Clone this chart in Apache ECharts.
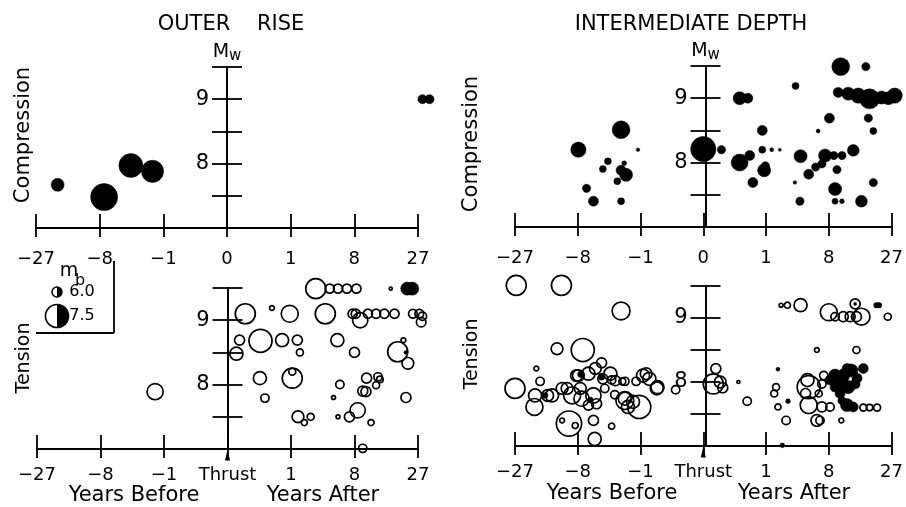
<!DOCTYPE html>
<html>
<head>
<meta charset="utf-8">
<script src="https://cdn.jsdelivr.net/npm/echarts@6/dist/echarts.min.js"></script>
<style>html,body{margin:0;padding:0;background:#fff}#c{width:906px;height:507px}</style>
</head>
<body>
<div id="c"></div>
<script>
// Time axis is drawn in cube-root-of-years units: ticks -3..3 are labelled -27,-8,-1,0,1,8,27 years.
// Each point: [time (cube-root years), Mw, mb]
const xTickLabelsTop = ['\u221227', '\u22128', '\u22121', '0', '1', '8', '27'];
const xTickLabelsBottom = ['\u221227', '\u22128', '\u22121', 'Thrust', '1', '8', '27'];
const yTickLabels = ['8', '9'];

const orCompression = [
  [-2.66, 7.67, 6.35], [-1.93, 7.48, 7.96], [-1.51, 7.97, 7.6], [-1.17, 7.88, 7.4],
  [3.07, 9.0, 5.9], [3.18, 9.0, 5.9]
];
const orTension = [
  [-1.14, 7.89, 6.7],
  [1.39, 9.49, 7.15], [1.61, 9.49, 5.9], [1.74, 9.49, 5.9], [1.88, 9.49, 5.9], [2.03, 9.49, 5.9], [2.57, 9.49, 5.2],
  [0.28, 9.10, 7.15], [0.70, 9.19, 5.4], [0.98, 9.10, 6.8], [1.54, 9.10, 7.15],
  [1.97, 9.10, 5.9], [2.02, 9.10, 5.9], [2.09, 9.0, 6.6], [2.21, 9.10, 5.9], [2.34, 9.10, 5.9], [2.47, 9.10, 5.9], [2.63, 9.10, 5.9],
  [2.92, 9.10, 5.85], [3.02, 9.10, 5.85], [3.05, 8.97, 5.95], [3.07, 9.06, 5.8],
  [0.19, 8.69, 6.0], [0.14, 8.48, 6.35], [0.52, 8.68, 7.5], [0.86, 8.69, 6.35], [1.10, 8.69, 6.0], [1.14, 8.50, 5.65],
  [1.73, 8.69, 6.35], [2.0, 8.50, 6.0], [2.68, 8.51, 7.15], [2.77, 8.69, 5.4], [2.84, 8.33, 6.2],
  [0.51, 8.10, 6.35], [1.02, 8.10, 7.15], [1.02, 8.20, 5.65], [0.59, 7.79, 5.8],
  [1.11, 7.50, 6.2], [1.21, 7.41, 5.55], [1.31, 7.50, 5.65],
  [1.77, 8.0, 5.8], [1.67, 7.80, 5.3], [1.74, 7.50, 5.3], [1.92, 7.50, 6.0], [2.05, 7.60, 6.6], [2.26, 7.41, 5.55], [2.13, 7.01, 5.8],
  [2.19, 8.10, 6.0], [2.37, 8.12, 5.8], [2.34, 7.99, 5.65], [2.40, 8.08, 5.6], [2.13, 7.90, 6.0], [2.18, 7.89, 6.0], [2.81, 7.80, 6.0]
];
const orTensionFilled = [
  [2.83, 9.49, 6.35], [2.91, 9.49, 6.35], [2.81, 8.50, 5.3]
];
const idCompression = [
  [-1.99, 8.20, 6.6], [-1.31, 8.51, 6.9], [-1.04, 8.20, 5.25], [-1.52, 8.02, 5.65], [-1.60, 7.90, 5.65],
  [-1.26, 7.99, 5.4], [-1.31, 7.88, 6.0], [-1.23, 7.81, 6.35], [-1.37, 7.71, 5.65], [-1.86, 7.60, 5.8],
  [-1.75, 7.40, 6.0], [-1.31, 7.40, 5.65],
  [0.0, 8.21, 7.75], [0.29, 8.20, 5.8],
  [2.19, 9.49, 6.9], [2.59, 9.49, 5.8], [1.47, 9.19, 5.65], [0.58, 9.0, 6.35], [0.71, 9.0, 6.0],
  [2.15, 9.09, 6.0], [2.31, 9.07, 6.35], [2.47, 9.04, 6.6], [2.65, 8.99, 7.15], [2.84, 9.01, 6.35], [2.95, 9.0, 6.35], [3.05, 9.04, 6.6],
  [2.63, 8.69, 5.8], [2.71, 8.49, 5.65], [2.01, 8.69, 6.0], [1.83, 8.49, 5.3], [0.94, 8.50, 6.0],
  [0.58, 8.0, 6.8], [0.74, 8.11, 6.0], [0.94, 8.20, 5.65], [1.09, 8.20, 5.3], [1.22, 8.20, 5.2],
  [0.97, 7.88, 6.35], [0.99, 7.95, 5.8], [0.79, 7.69, 6.0],
  [1.55, 8.10, 6.35], [1.46, 7.69, 5.25], [1.94, 8.11, 6.35], [2.08, 8.11, 5.8], [2.21, 8.11, 5.8], [2.39, 8.19, 6.2],
  [1.89, 7.98, 5.8], [1.79, 7.93, 5.8], [1.68, 7.82, 6.0], [2.13, 7.89, 5.8], [2.10, 7.59, 6.35],
  [1.54, 7.40, 5.8], [2.10, 7.40, 5.55], [2.21, 7.40, 5.4], [2.52, 7.40, 6.2], [2.71, 7.69, 5.8]
];
const idTension = [
  [-2.98, 9.51, 7.15], [-2.26, 9.51, 7.15], [-1.31, 9.11, 6.9], [-2.33, 8.52, 6.2], [-1.92, 8.50, 7.5],
  [-2.66, 8.21, 5.4], [-3.0, 7.90, 7.15], [-2.60, 8.01, 5.8], [-2.68, 7.79, 6.35], [-2.69, 7.61, 6.8],
  [-2.48, 7.79, 6.2], [-2.41, 7.79, 6.35], [-2.25, 7.90, 6.2], [-2.17, 7.90, 6.2], [-2.09, 7.79, 6.8],
  [-2.14, 7.35, 7.75], [-2.25, 7.40, 5.4], [-2.04, 7.32, 5.55], [-1.94, 7.74, 6.6], [-1.96, 7.90, 6.2],
  [-1.99, 8.10, 6.2], [-1.75, 7.79, 6.6], [-1.70, 7.66, 6.0], [-1.83, 7.64, 6.0], [-1.75, 7.40, 6.0],
  [-1.73, 7.11, 6.35], [-1.46, 7.31, 5.55], [-1.57, 7.90, 5.8], [-1.46, 8.03, 5.8], [-1.41, 7.80, 5.8],
  [-1.29, 8.01, 5.65], [-1.25, 7.74, 6.35], [-1.25, 8.01, 5.8], [-1.07, 8.01, 5.8], [-0.96, 8.10, 6.35],
  [-0.91, 8.13, 6.2], [-0.86, 8.05, 6.35], [-0.73, 7.92, 6.35], [-1.20, 7.61, 6.35], [-1.12, 7.69, 6.35],
  [-1.02, 7.61, 7.5], [-1.25, 7.71, 6.9], [-0.74, 7.90, 6.35],
  [-2.02, 8.10, 6.2], [-1.83, 8.13, 6.35], [-1.72, 8.21, 6.2], [-1.60, 8.05, 6.0], [-1.48, 8.13, 6.35], [-1.40, 8.02, 6.0], [-1.62, 8.30, 6.0],
  [-0.44, 7.88, 5.8],
  [0.20, 8.21, 6.0], [0.16, 7.97, 7.15], [0.27, 8.0, 6.2], [0.31, 7.91, 6.0], [0.56, 8.0, 5.1], [0.70, 7.70, 5.8],
  [1.24, 9.20, 5.3], [1.34, 9.20, 5.55], [1.55, 9.20, 6.35],
  [2.0, 9.09, 6.8], [2.42, 9.22, 6.0], [2.52, 9.02, 6.8], [2.10, 9.02, 5.8], [2.23, 9.02, 6.0], [2.34, 9.02, 6.0], [2.44, 9.02, 6.0],
  [2.94, 9.02, 5.65], [1.81, 8.50, 5.4], [2.44, 8.50, 5.65],
  [1.16, 7.92, 5.65], [1.13, 7.82, 5.65], [1.19, 7.61, 5.55], [1.32, 7.40, 5.8],
  [1.68, 7.92, 7.5], [1.66, 8.03, 6.35], [1.63, 7.82, 6.0], [1.68, 7.64, 6.8],
  [1.92, 8.10, 5.8], [1.89, 7.97, 5.8], [1.84, 7.82, 5.65], [1.81, 7.40, 6.2], [1.89, 7.61, 6.0], [2.02, 7.61, 5.8],
  [2.55, 7.60, 5.65], [2.65, 7.60, 5.6], [2.77, 7.60, 5.65], [2.20, 7.40, 5.4], [1.86, 7.40, 5.8]
];
const idTensionFilled = [
  [2.42, 9.22, 5.1], [2.76, 9.20, 5.5], [2.80, 9.20, 5.5],
  [1.19, 8.20, 5.3], [1.35, 7.70, 5.4], [1.26, 7.01, 5.4],
  [-1.95, 8.12, 5.6], [-1.62, 8.08, 5.6], [-2.52, 7.79, 5.5], [-1.80, 7.72, 5.5],
  [2.10, 8.10, 6.35], [2.23, 8.10, 6.35], [2.36, 8.18, 6.35], [2.55, 8.21, 6.0], [2.29, 8.21, 6.0],
  [2.20, 7.97, 6.35], [2.31, 7.92, 6.35], [2.18, 7.82, 6.0], [2.42, 7.97, 6.0], [2.10, 7.92, 6.0],
  [2.02, 8.03, 6.0], [2.45, 8.06, 6.0], [2.29, 7.64, 6.35], [2.39, 7.61, 6.0], [2.21, 7.71, 5.8]
];

const FONT = 'DejaVu Sans';
const sizeOf = mb => Math.max(3, 10 + (mb - 6) * 8.7);

const panels = [
  { left: 36, top: 67, width: 382, height: 161, tension: false },   // outer rise, compression
  { left: 37, top: 288, width: 381, height: 161, tension: true },   // outer rise, tension
  { left: 515, top: 66, width: 381, height: 161, tension: false },  // intermediate, compression
  { left: 515, top: 286, width: 381, height: 160, tension: true }   // intermediate, tension
];
const X_MIN = -3, X_MAX = 3, Y_MIN = 7, Y_MAX = 9.5;

const lineStyle = { color: '#000', width: 1.8 };
const grids = [], xAxes = [], yAxes = [];
// data grids 0..3
panels.forEach(p => grids.push({ left: p.left, top: p.top, width: p.width, height: p.height }));
// Mw-axis grids 4..7: their left edge is the Thrust (time 0) line of each panel
panels.forEach(p => grids.push({ left: p.left + p.width * (0 - X_MIN) / (X_MAX - X_MIN), top: p.top, width: p.width / 2, height: p.height }));

panels.forEach((p, i) => {
  const labels = p.tension ? xTickLabelsBottom : xTickLabelsTop;
  const base = { type: 'value', gridIndex: i, min: X_MIN, max: X_MAX, interval: 1, position: 'bottom',
    axisLine: { show: true, onZero: false, lineStyle }, splitLine: { show: false } };
  xAxes.push(Object.assign({}, base, { axisTick: { inside: true, length: 14, lineStyle }, axisLabel: { show: false } }));
  xAxes.push(Object.assign({}, base, { axisTick: { inside: false, length: 9, lineStyle },
    axisLabel: { show: true, color: '#000', fontFamily: FONT, fontSize: 18, margin: p.tension ? 17 : 22,
      formatter: v => labels[Math.round(v) + 3] } }));
  xAxes.push({ type: 'value', gridIndex: 4 + i, min: 0, max: X_MAX, show: false });

  yAxes.push({ type: 'value', gridIndex: i, min: Y_MIN, max: Y_MAX, show: false });
  const yb = { type: 'value', gridIndex: 4 + i, min: Y_MIN, max: Y_MAX, interval: 0.5, position: 'left',
    axisLine: { show: true, onZero: false, lineStyle }, splitLine: { show: false } };
  yAxes.push(Object.assign({}, yb, { axisTick: { inside: true, length: 15, lineStyle }, axisLabel: { show: false } }));
  const yl = Object.assign({}, yb, { axisTick: { inside: false, length: 15, lineStyle },
    axisLabel: { show: true, color: '#000', fontFamily: FONT, fontSize: 21, margin: 18,
      formatter: v => yTickLabels.indexOf(String(v)) >= 0 ? String(v) : '' } });
  if (!p.tension) {
    yl.name = '{m|M}{w|w}';
    yl.nameLocation = 'end';
    yl.nameGap = 3;
    yl.nameTextStyle = { color: '#000', rich: {
      m: { fontFamily: FONT, fontSize: 19, color: '#000' },
      w: { fontFamily: FONT, fontSize: 15, color: '#000', padding: [8, 0, 0, 0] } } };
  }
  yAxes.push(yl);
});

function scatter(data, pi, filled, extra) {
  return Object.assign({
    type: 'scatter', xAxisIndex: 3 * pi, yAxisIndex: 3 * pi, data: data,
    symbol: 'circle', symbolSize: v => sizeOf(v[2]), clip: false, silent: true,
    itemStyle: filled ? { color: '#000', borderColor: '#000', borderWidth: 0.5, opacity: 1 }
                      : { color: 'rgba(0,0,0,0)', borderColor: '#000', borderWidth: 1.7, opacity: 1 },
    emphasis: { disabled: true }
  }, extra || {});
}
const thrustArrow = { markPoint: { silent: true, symbol: 'triangle', symbolSize: [5, 11], symbolOffset: [0, 6],
  itemStyle: { color: '#000', opacity: 1 }, label: { show: false }, data: [{ coord: [0, Y_MIN] }] } };

const series = [
  scatter(orCompression, 0, true),
  scatter(orTension, 1, false, thrustArrow),
  scatter(orTensionFilled, 1, true),
  scatter(idCompression, 2, true),
  scatter(idTension, 3, false, thrustArrow),
  scatter(idTensionFilled, 3, true)
];

const txt = (text, x, y, size, extra) => Object.assign({ type: 'text', x: x, y: y, silent: true,
  style: { text: text, fontFamily: FONT, fontSize: size, fill: '#000', align: 'center', verticalAlign: 'middle' } }, extra || {});
const rS = sizeOf(6.0) / 2, rL = sizeOf(7.5) / 2;
const halfCircle = (cx, cy, r) => [
  { type: 'circle', silent: true, shape: { cx: cx, cy: cy, r: r }, style: { fill: 'none', stroke: '#000', lineWidth: 1.6 } },
  { type: 'sector', silent: true, shape: { cx: cx, cy: cy, r0: 0, r: r, startAngle: -Math.PI / 2, endAngle: Math.PI / 2, clockwise: true }, style: { fill: '#000' } }
];

const graphic = [
  txt('OUTER    RISE', 231, 25, 21),
  txt('INTERMEDIATE DEPTH', 691, 25, 21),
  txt('Compression', 24, 135, 21, { rotation: Math.PI / 2 }),
  txt('Tension', 24, 358, 19, { rotation: Math.PI / 2 }),
  txt('Compression', 472, 144, 21, { rotation: Math.PI / 2 }),
  txt('Tension', 472, 354, 19, { rotation: Math.PI / 2 }),
  txt('Years Before', 134, 496, 21),
  txt('Years After', 323, 496, 21),
  txt('Years Before', 612, 494, 21),
  txt('Years After', 794, 494, 21),
  { type: 'line', silent: true, shape: { x1: 114, y1: 261, x2: 114, y2: 333 }, style: { stroke: '#000', lineWidth: 1.8 } },
  { type: 'line', silent: true, shape: { x1: 36, y1: 333, x2: 114, y2: 333 }, style: { stroke: '#000', lineWidth: 1.8 } },
  txt('m', 69, 271, 19),
  txt('b', 80, 281, 16),
  ...halfCircle(57, 292, rS),
  ...halfCircle(57, 316, rL),
  txt('6.0', 82, 292, 16),
  txt('7.5', 82, 316, 16)
];

const chart = echarts.init(document.getElementById('c'), null, { renderer: 'canvas' });
chart.setOption({
  animation: false,
  backgroundColor: '#fff',
  grid: grids,
  xAxis: xAxes,
  yAxis: yAxes,
  series: series,
  graphic: graphic
});
</script>
</body>
</html>
